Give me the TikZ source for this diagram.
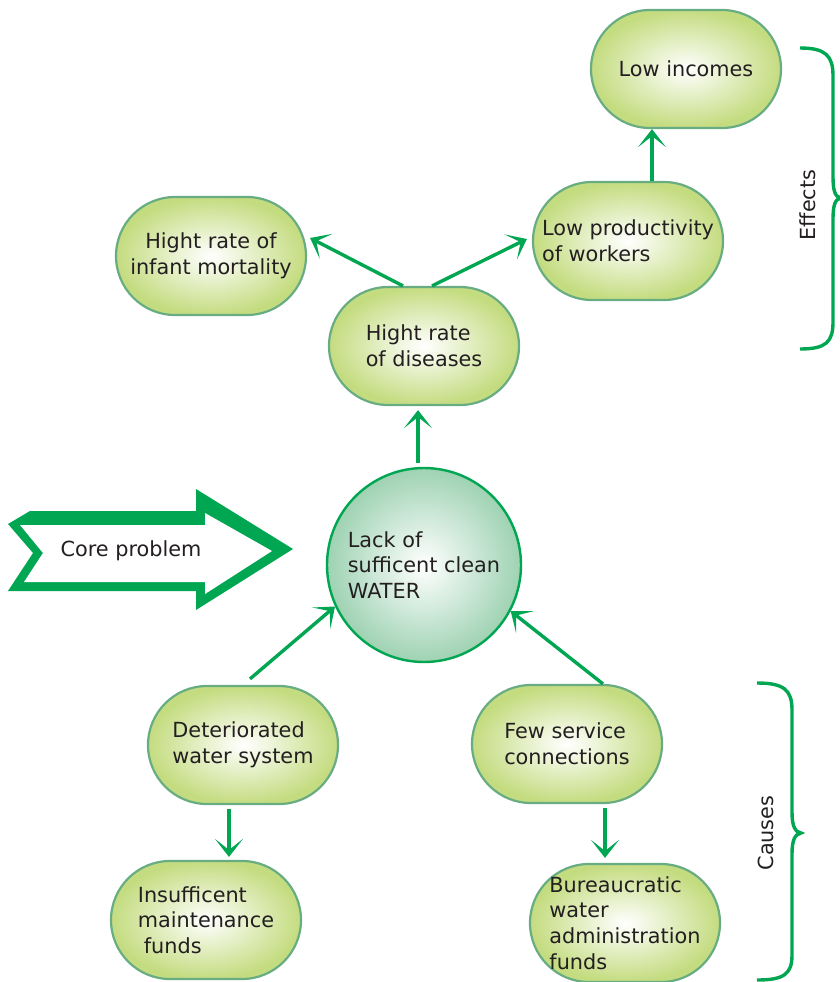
\documentclass[tikz,border=0pt]{standalone}
\usepackage{fontspec}
\setmainfont{DejaVu Sans}
\usetikzlibrary{arrows.meta}
\definecolor{leafgreen}{RGB}{196,220,128}
\definecolor{rimgreen}{RGB}{104,172,130}
\definecolor{mintgreen}{RGB}{158,210,178}
\definecolor{arrowgreen}{RGB}{0,166,81}
\definecolor{inkgrey}{RGB}{35,31,32}

\begin{document}
\begin{tikzpicture}[x=1pt,y=-1pt,
   font=\fontsize{20.8}{25.7}\selectfont,text=inkgrey,
   bubble/.style={draw=rimgreen,line width=2.2pt,rounded corners=59pt,
      minimum width=190pt,minimum height=118pt,inner sep=2pt,
      inner color=white,outer color=leafgreen,align=left},
   water/.style={circle,draw=arrowgreen,line width=2.4pt,minimum size=194pt,
      inner sep=2pt,inner color=white,outer color=mintgreen,align=left},
   link/.style={draw=arrowgreen,line width=3.4pt,
      -{Stealth[length=18pt,width=28pt,inset=11pt]}},
   curly/.style={draw=arrowgreen,line width=3.4pt}]
 \useasboundingbox (0,0) rectangle (840,982);
 \node[bubble] (inc) at (686,69) {Low incomes};
 \node[bubble] (pro) at (628,241) {Low productivity\\of workers};
 \node[bubble,align=center] (inf) at (211,256) {Hight rate of\\infant mortality};
 \node[bubble] (dis) at (424,346) {Hight rate\\of diseases};
 \node[water] (wat) at (424,565) {Lack of\\sufficent clean\\WATER};
 \node[bubble] (det) at (243,745) {Deteriorated\\water system};
 \node[bubble] (few) at (567,744) {Few service\\connections};
 \node[bubble] (ins) at (206,920) {Insufficent\\maintenance\\\hspace{6pt}funds};
 \node[bubble] (bur) at (625,923) {Bureaucratic\\water\\administration\\funds};

 \fill[arrowgreen] (30,511) -- (196,511) -- (196,489) -- (293,549) -- (196,610)
    -- (196,591) -- (8,591) -- (33,553) -- (8,524) -- cycle;
 \fill[white] (20,525) -- (205,525) -- (205,513) -- (272,551) -- (205,594)
    -- (205,582) -- (24,582) -- (43,553) -- cycle;
 \node (core) at (131,551) {Core problem};

 \draw[link,shorten <=4pt,shorten >=4pt] ([xshift=-6pt]wat.north) -- ([xshift=-6pt]dis.south);
 \draw[link] ([xshift=-21pt]dis.north) -- ([xshift=3pt,yshift=18pt]inf.east);
 \draw[link] ([xshift=8pt]dis.north) -- ([xshift=-5pt,yshift=2pt]pro.west);
 \draw[link] ([xshift=24pt]pro.north) -- ([xshift=-34pt]inc.south);
 \draw[link] ([xshift=7pt,yshift=6pt]det.north) -- (wat.205);
 \draw[link] ([xshift=36pt]few.north) -- (wat.332);
 \draw[link] ([xshift=-14pt,yshift=-4pt]det.south) -- ([xshift=23pt,yshift=3pt]ins.north);
 \draw[link] ([xshift=38pt,yshift=-4pt]few.south) -- ([xshift=-20pt,yshift=5pt]bur.north);

 \draw[curly] (800,48) .. controls (826,48) and (833,56) .. (833,76) -- (833,176)
    .. controls (833,191) and (835,197) .. (841,198)
    .. controls (835,199) and (833,205) .. (833,220) -- (833,322)
    .. controls (833,342) and (826,349) .. (800,349);
 \node[rotate=90] (eff) at (808,205) {Effects};
 \draw[curly] (757,683) .. controls (784,683) and (792,690) .. (792,710) -- (792,812)
    .. controls (792,826) and (795,832) .. (801,833)
    .. controls (795,834) and (792,840) .. (792,854) -- (792,955)
    .. controls (792,974) and (784,980) .. (757,980);
 \node[rotate=90] (cau) at (766,833) {Causes};
\end{tikzpicture}
\end{document}
